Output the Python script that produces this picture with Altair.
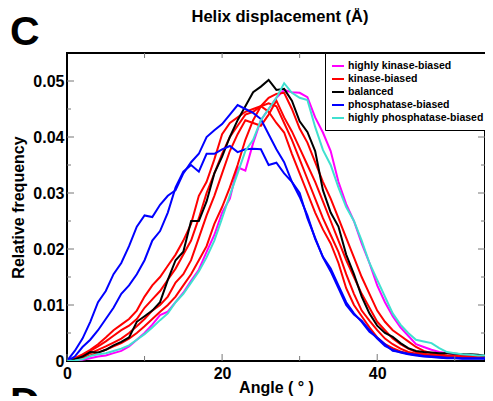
import altair as alt
import pandas as pd

FONT = "Liberation Sans"

angles = list(range(0, 56))

# values in units of 1e-3 (relative frequency), one per degree
highly_kinase = [0, 0.1, 0.2, 0.5, 0.8, 1.0, 1.4, 1.8, 2.6, 3.8, 5.0, 6.5, 8.2, 8.8, 10.5, 12.2, 14.3, 16.3, 19.5, 22.5,
                 26.5, 29.0, 34.6, 34.0, 38.9, 43.0, 45.0, 47.0, 48.4, 48.0, 47.9, 47.1, 43.5, 40.8, 37.5, 32.0, 28.0, 25.0, 21.0, 17.5,
                 13.5, 10.5, 8.0, 6.0, 4.5, 3.0, 2.5, 2.0, 1.6, 1.4, 1.2, 1.1, 1.0, 0.9, 0.8, 0.8]
kinase_1 = [0, 0.5, 1.2, 2.0, 3.0, 4.2, 5.5, 6.5, 7.5, 9.0, 11.5, 13.5, 15.0, 17.0, 19.0, 21.5, 24.5, 29.5, 32.0, 36.0,
            40.5, 42.5, 43.5, 44.5, 45.0, 45.5, 44.5, 42.5, 40.8, 37.0, 33.5, 30.0, 26.5, 23.5, 21.0, 17.5, 13.0, 10.0, 8.0, 6.0,
            4.2, 3.0, 2.3, 1.7, 1.3, 1.1, 1.0, 0.9, 0.8, 0.8, 0.7, 0.7, 0.6, 0.6, 0.6, 0.6]
kinase_2 = [0, 0.4, 1.0, 1.8, 2.6, 3.5, 4.5, 5.5, 6.3, 7.5, 9.5, 11.0, 12.5, 14.5, 16.5, 19.0, 21.5, 25.5, 30.0, 33.5,
            37.0, 40.0, 42.0, 44.0, 44.5, 45.5, 46.0, 45.5, 42.5, 39.5, 36.0, 32.5, 29.0, 25.5, 22.5, 19.5, 15.5, 12.0, 9.0, 7.2,
            5.5, 4.0, 3.0, 2.2, 1.6, 1.3, 1.1, 1.0, 0.9, 0.8, 0.8, 0.7, 0.7, 0.7, 0.6, 0.6]
kinase_3 = [0, 0.3, 0.8, 1.4, 2.0, 2.6, 3.3, 4.0, 5.0, 6.2, 7.5, 9.0, 10.0, 11.5, 14.0, 15.5, 18.0, 22.0, 26.0, 29.5,
            33.5, 37.5, 40.5, 43.0, 42.5, 42.0, 44.0, 46.5, 43.5, 41.0, 38.0, 35.0, 32.0, 28.5, 25.0, 21.5, 18.0, 15.0, 12.0, 9.5,
            7.0, 5.5, 4.0, 3.0, 2.2, 1.6, 1.3, 1.1, 1.0, 0.9, 0.8, 0.8, 0.7, 0.7, 0.6, 0.6]
kinase_4 = [0, 0.2, 0.6, 1.0, 1.5, 2.0, 2.6, 3.2, 4.0, 5.0, 6.2, 7.5, 8.8, 10.0, 11.5, 13.5, 15.5, 18.0, 20.5, 24.5,
            27.5, 31.0, 35.0, 39.5, 43.0, 45.5, 47.0, 47.7, 47.9, 45.0, 41.5, 39.0, 35.5, 32.0, 29.0, 25.5, 22.0, 18.5, 15.0, 12.0,
            9.0, 7.0, 5.5, 4.5, 3.5, 2.5, 1.8, 1.4, 1.2, 1.0, 0.9, 0.8, 0.8, 0.7, 0.7, 0.7]
balanced = [0, 0.3, 0.8, 1.6, 1.5, 2.0, 2.8, 3.4, 4.2, 7.0, 8.0, 9.0, 10.5, 14.5, 18.0, 19.5, 25.0, 25.0, 28.5, 33.5,
            36.5, 40.0, 43.0, 45.5, 48.0, 49.0, 50.2, 48.4, 48.6, 46.5, 42.8, 40.9, 37.5, 30.5, 26.5, 24.0, 19.0, 15.5, 11.5, 8.5,
            6.3, 5.0, 4.3, 3.2, 2.3, 1.8, 1.6, 1.5, 1.4, 1.4, 1.3, 1.2, 1.2, 1.1, 0.9, 1.2]
phosphatase_1 = [0, 1.8, 4.0, 7.0, 10.5, 12.5, 15.5, 17.5, 20.5, 24.0, 26.0, 25.7, 27.9, 29.5, 30.5, 33.5, 35.5, 37.0, 40.0, 41.2,
                 42.3, 44.0, 45.7, 45.0, 44.3, 43.2, 40.5, 37.8, 35.5, 32.0, 29.3, 26.0, 21.8, 18.6, 16.5, 13.5, 10.5, 8.5, 7.0, 5.2,
                 4.2, 3.0, 1.8, 1.6, 1.3, 1.1, 0.9, 0.8, 0.7, 0.6, 0.6, 0.5, 0.5, 0.5, 0.5, 0.5]
phosphatase_2 = [0, 0.8, 2.5, 3.8, 5.5, 7.5, 9.5, 12.0, 13.5, 15.5, 18.0, 21.5, 23.2, 26.5, 31.0, 33.8, 35.0, 33.8, 37.0, 37.0,
                 37.8, 38.4, 37.3, 37.8, 37.9, 37.8, 35.0, 35.4, 33.5, 32.0, 30.0, 25.5, 22.0, 18.5, 16.0, 13.0, 10.0, 8.3, 7.2, 5.5,
                 4.0, 2.7, 2.0, 1.5, 1.2, 1.0, 0.8, 0.7, 0.6, 0.5, 0.5, 0.4, 0.4, 0.4, 0.4, 0.4]
highly_phosphatase = [0, 0.1, 0.3, 0.9, 1.2, 1.4, 1.8, 2.2, 2.8, 3.8, 4.8, 6.0, 7.3, 8.5, 10.5, 12.0, 14.0, 16.0, 18.5, 21.5,
                      25.5, 29.6, 33.5, 37.5, 39.5, 43.0, 45.0, 47.0, 49.6, 47.9, 47.0, 46.6, 41.8, 37.7, 35.0, 31.0, 27.5, 25.0, 21.5, 17.5,
                      14.5, 11.5, 8.5, 6.5, 5.0, 3.8, 3.5, 3.2, 2.3, 1.6, 1.4, 1.2, 1.1, 1.0, 1.0, 0.9]

categories = ["highly kinase-biased", "kinase-biased", "balanced", "phosphatase-biased", "highly phosphatase-biased"]
colors = ["#ff00ff", "#ff0000", "#000000", "#0000ff", "#40e0d0"]

curves = [
    ("highly kinase-biased", "hk", highly_kinase),
    ("kinase-biased", "k1", kinase_1),
    ("kinase-biased", "k2", kinase_2),
    ("kinase-biased", "k3", kinase_3),
    ("kinase-biased", "k4", kinase_4),
    ("balanced", "b", balanced),
    ("phosphatase-biased", "p1", phosphatase_1),
    ("phosphatase-biased", "p2", phosphatase_2),
    ("highly phosphatase-biased", "hp", highly_phosphatase),
]

x_major = [0, 20, 40]
x_minor = [10, 30, 50]
x_top = [10, 20, 30, 40, 50]
y_major = [0.01, 0.02, 0.03, 0.04, 0.05]
y_minor = [0.005, 0.015, 0.025, 0.035, 0.045]
texts = pd.DataFrame({"label": ["C", "D", "Helix displacement (Å)"]})

rows = []
for cat, cid, vals in curves:
    for a, v in zip(angles, vals):
        rows.append({"angle": a, "freq": v / 1000.0, "group": cat, "curve": cid})
df = pd.DataFrame(rows)

W, H = 418, 308
xs = alt.Scale(domain=[0, 53.9], nice=False, zero=False)
ys = alt.Scale(domain=[0, 0.055], nice=False, zero=False)

lines = alt.Chart(df).mark_line(strokeWidth=2, clip=True).encode(
    x=alt.X("angle:Q", scale=xs, axis=alt.Axis(
        values=x_major, ticks=False, domain=False, grid=False, labelFlush=False,
        labelFont=FONT, labelFontSize=16, labelFontWeight="bold", labelColor="black", labelPadding=4,
        title="Angle ( ° )", titleFont=FONT, titleFontSize=16, titleFontWeight="bold", titleColor="black",
        titleBaseline="alphabetic", titleY=31)),
    y=alt.Y("freq:Q", scale=ys, axis=alt.Axis(
        values=[0] + y_major, ticks=False, domain=False, grid=False, labelFlush=False,
        labelExpr="datum.value == 0 ? '0' : format(datum.value, '.2f')",
        labelFont=FONT, labelFontSize=16, labelFontWeight="bold", labelColor="black", labelPadding=3,
        title="Relative frequency", titleFont=FONT, titleFontSize=16, titleFontWeight="bold", titleColor="black",
        titlePadding=6)),
    color=alt.Color("group:N", scale=alt.Scale(domain=categories, range=colors), legend=alt.Legend(
        orient="none", legendX=W - 160, legendY=0, title=None, symbolType="stroke", symbolSize=144,
        symbolStrokeWidth=2, labelFont=FONT, labelFontSize=10.5, labelFontWeight="bold", labelColor="black",
        strokeColor="black", fillColor="white", padding=6, rowPadding=0, labelOffset=3, labelLimit=300)),
    detail="curve:N",
)

tick_color = "#777777"
def xticks(vals, y1, y2):
    return alt.Chart(pd.DataFrame({"t": vals})).mark_rule(color=tick_color, strokeWidth=1).encode(
        x=alt.X("t:Q", scale=xs), y=alt.value(y1), y2=alt.value(y2))

def yticks(vals, x1, x2):
    return alt.Chart(pd.DataFrame({"t": vals})).mark_rule(color=tick_color, strokeWidth=1).encode(
        y=alt.Y("t:Q", scale=ys), x=alt.value(x1), x2=alt.value(x2))

ticks = [
    xticks(x_major, H, H - 7), xticks(x_minor, H, H - 5), xticks(x_top, 0, 5),
    yticks(y_major, 0, 7), yticks(y_minor, 0, 4),
    yticks(y_major, W, W - 7), yticks(y_minor, W, W - 4),
]

def text_layer(label, size, x, y, align):
    return alt.Chart(texts).transform_filter(alt.datum.label == label).mark_text(
        font=FONT, fontSize=size, fontWeight="bold", align=align, baseline="alphabetic", color="black").encode(
        text="label:N", x=alt.value(x), y=alt.value(y))

c_label = text_layer("C", 41, -57, -8, "left")
d_label = text_layer("D", 41, -57, 363, "left")
title = text_layer("Helix displacement (Å)", 16.5, 213, -31, "center")

chart = alt.layer(lines, *ticks, c_label, d_label, title).properties(
    width=W, height=H,
    background="white",
    autosize=alt.AutoSizeParams(type="none"),
    padding={"left": 59, "top": 45, "right": 0, "bottom": 35},
).configure_view(stroke="black", strokeWidth=2)

chart.save("out.html", embed_options={"renderer": "svg", "actions": False})
